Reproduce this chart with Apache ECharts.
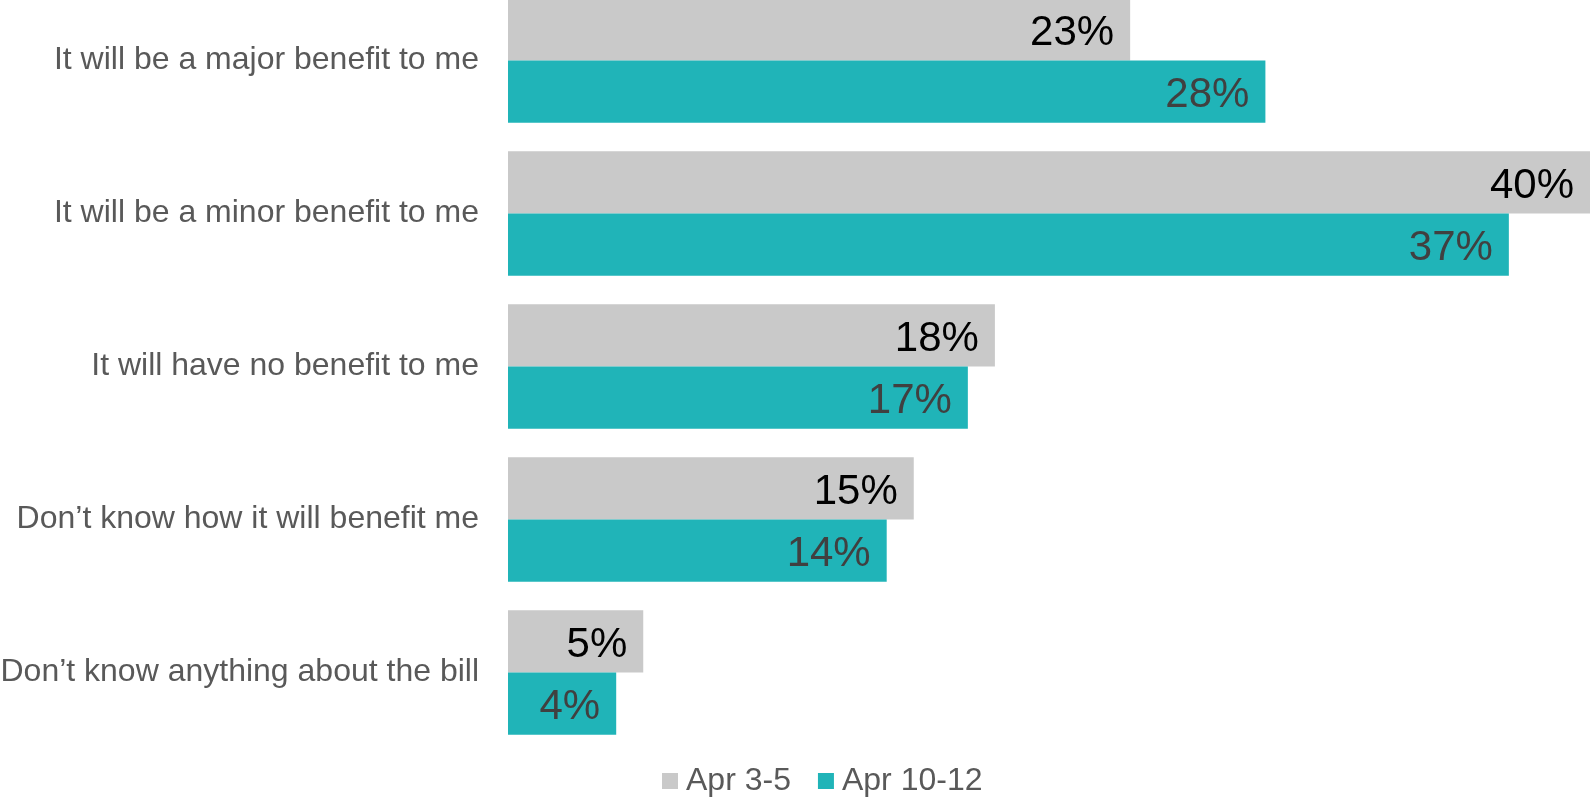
<!DOCTYPE html>
<html>
<head>
<meta charset="utf-8">
<script src="https://cdn.jsdelivr.net/npm/echarts@6/dist/echarts.min.js"></script>
<style>
  html, body { margin: 0; padding: 0; background: #fff; }
  #chart { width: 1590px; height: 797px; }
</style>
</head>
<body>
<div id="chart"></div>
<script>
// answers, top to bottom
var categories = [
  'It will be a major benefit to me',
  'It will be a minor benefit to me',
  'It will have no benefit to me',
  'Don\u2019t know how it will benefit me',
  'Don\u2019t know anything about the bill'
];
var seriesNames = ['Apr 3-5', 'Apr 10-12'];
var apr3to5 = [23, 40, 18, 15, 5];
var apr10to12 = [28, 37, 17, 14, 4];

var chart = echarts.init(document.getElementById('chart'));

var labelStyle = function (color) {
  return {
    show: true,
    position: 'insideRight',
    distance: 16,
    offset: [0, 4],
    color: color,
    fontSize: 42,
    fontFamily: 'Liberation Sans, Arial, sans-serif',
    formatter: '{c}%'
  };
};

var options = {
  animation: false,
  textStyle: {
    fontFamily: 'Liberation Sans, Arial, sans-serif'
  },
  legend: {
    data: seriesNames,
    left: 657,
    top: 760,
    itemWidth: 16,
    itemHeight: 16,
    itemGap: 27,
    icon: 'rect',
    textStyle: {
      fontSize: 32,
      color: '#595959',
      padding: [0, 0, 0, 3]
    }
  },
  grid: {
    left: 508,
    right: 0,
    top: -16,
    height: 765,
    containLabel: false,
    outerBoundsMode: 'none'
  },
  xAxis: {
    type: 'value',
    min: 0,
    max: 40,
    show: false
  },
  yAxis: {
    type: 'category',
    data: categories,
    inverse: true,
    axisLine: { show: false },
    axisTick: { show: false },
    splitLine: { show: false },
    axisLabel: {
      margin: 29,
      fontSize: 32,
      color: '#595959',
      padding: [4, 0, 0, 0]
    }
  },
  series: [
    {
      name: seriesNames[0],
      type: 'bar',
      data: apr3to5,
      barGap: '0%',
      barCategoryGap: '18.5%',
      itemStyle: { color: '#C9C9C9' },
      label: labelStyle('#000000')
    },
    {
      name: seriesNames[1],
      type: 'bar',
      data: apr10to12,
      barGap: '0%',
      barCategoryGap: '18.5%',
      itemStyle: { color: '#20B4B8' },
      label: labelStyle('#404040')
    }
  ]
};

chart.setOption(options);
</script>
</body>
</html>
